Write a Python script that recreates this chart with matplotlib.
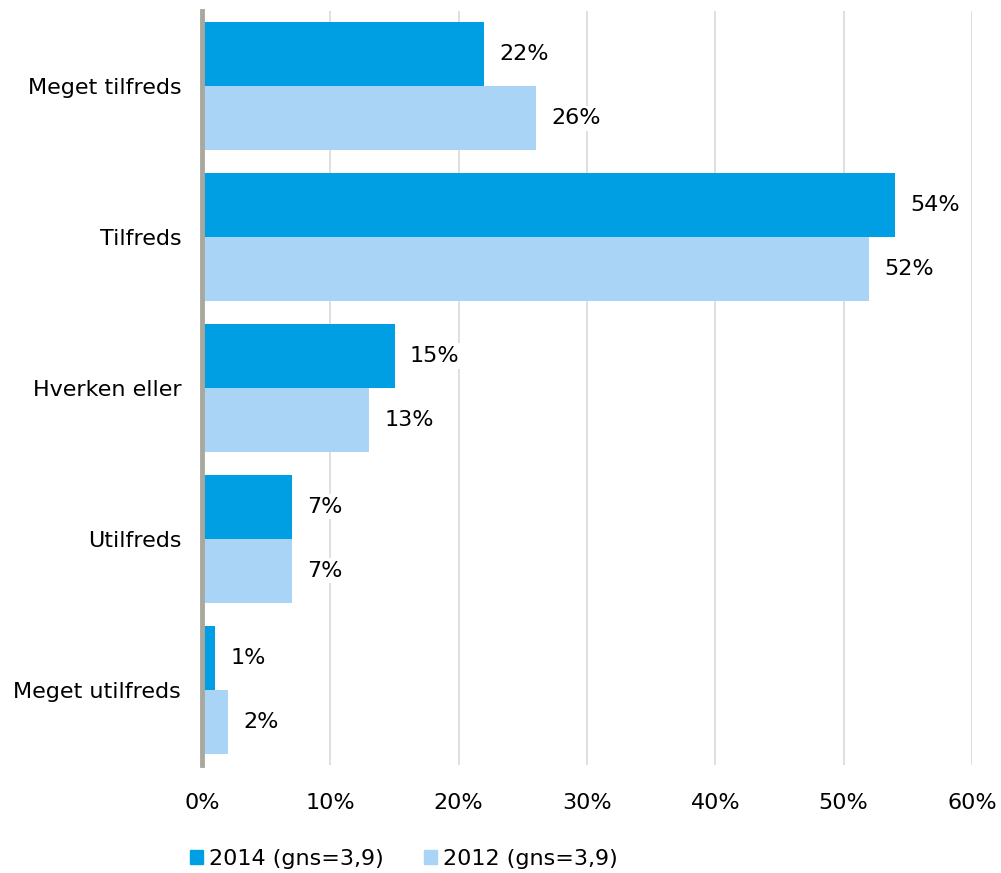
import numpy as np
import matplotlib.pyplot as plt
from matplotlib.patches import Patch

# survey answers, top to bottom
categories = ['Meget tilfreds', 'Tilfreds', 'Hverken eller', 'Utilfreds', 'Meget utilfreds']
values_2014 = [22, 54, 15, 7, 1]
values_2012 = [26, 52, 13, 7, 2]
series_labels = ['2014 (gns=3,9)', '2012 (gns=3,9)']
xticks = [0, 10, 20, 30, 40, 50, 60]

dark = '#009FE3'
light = '#A9D4F5'

plt.rcParams['font.family'] = ['DejaVu Sans']
fs = 16

fig = plt.figure(figsize=(10.01, 8.73), dpi=100)
ax = fig.add_axes([202 / 1001, 1 - 765 / 873, 770 / 1001, 754 / 873])

y = np.arange(len(categories))
h = 0.424
ax.barh(y - h / 2, values_2014, height=h, color=dark, zorder=2)
ax.barh(y + h / 2, values_2012, height=h, color=light, zorder=2)

# value labels
for yi, v in zip(y - h / 2, values_2014):
    ax.text(v + 1.2, yi, f'{v}%', va='center', ha='left', fontsize=fs, zorder=3,
            bbox=dict(facecolor='white', edgecolor='none', pad=2))
for yi, v in zip(y + h / 2, values_2012):
    ax.text(v + 1.2, yi, f'{v}%', va='center', ha='left', fontsize=fs, zorder=3,
            bbox=dict(facecolor='white', edgecolor='none', pad=2))

ax.set_xlim(0, 60)
ax.set_ylim(len(categories) - 0.5, -0.5)
ax.set_yticks(y)
ax.set_yticklabels(categories, fontsize=fs)
ax.set_xticks(xticks)
ax.set_xticklabels([f'{t}%' for t in xticks], fontsize=fs)
ax.tick_params(axis='y', length=0, pad=15)
ax.tick_params(axis='x', length=0, pad=20)

ax.grid(axis='x', color='#D9D9D9', linewidth=1.2, zorder=0)
ax.set_axisbelow(True)
for s in ['top', 'right', 'bottom']:
    ax.spines[s].set_visible(False)
ax.spines['left'].set_color('#A8A89E')
ax.spines['left'].set_linewidth(3.5)
ax.spines['left'].set_zorder(4)

handles = [Patch(color=dark, label=series_labels[0]),
           Patch(color=light, label=series_labels[1])]
fig.legend(handles=handles, loc='center left', bbox_to_anchor=(170 / 1001, 1 - 859 / 873),
           ncol=2, frameon=False, fontsize=fs, handlelength=0.6, handleheight=0.6,
           handletextpad=0.25, columnspacing=1.8)

fig.savefig('out.png', dpi=100)
